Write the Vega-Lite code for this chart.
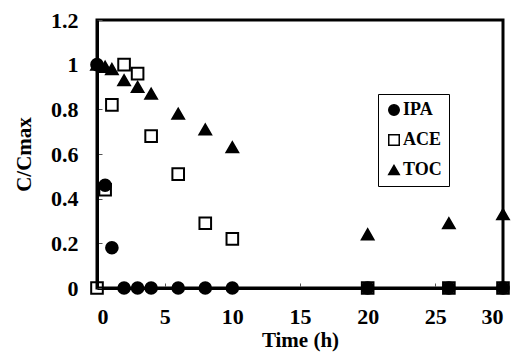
{
  "$schema": "https://vega.github.io/schema/vega-lite/v6.json",
  "width": 406,
  "height": 268,
  "autosize": {"type": "none"},
  "padding": {"left": 97, "top": 20, "right": 15, "bottom": 70},
  "background": "white",
  "config": {
    "view": {"stroke": "#000", "strokeWidth": 3},
    "font": "Liberation Serif",
    "axis": {
      "grid": false,
      "domainColor": "#000",
      "domainWidth": 3,
      "tickColor": "#555",
      "tickSize": -5,
      "labelFont": "Liberation Serif",
      "labelFontWeight": "bold",
      "labelFontSize": 22,
      "labelColor": "#000",
      "titleFont": "Liberation Serif",
      "titleFontWeight": "bold",
      "titleFontSize": 21,
      "titleColor": "#000"
    }
  },
  "data": {
    "values": [
      {"series": "ACE", "t": 0, "c": 0},
      {"series": "ACE", "t": 0.6, "c": 0.44},
      {"series": "ACE", "t": 1.1, "c": 0.82},
      {"series": "ACE", "t": 2, "c": 1.0},
      {"series": "ACE", "t": 3, "c": 0.96},
      {"series": "ACE", "t": 4, "c": 0.68},
      {"series": "ACE", "t": 6, "c": 0.51},
      {"series": "ACE", "t": 8, "c": 0.29},
      {"series": "ACE", "t": 10, "c": 0.22},
      {"series": "ACE", "t": 20, "c": 0},
      {"series": "ACE", "t": 26, "c": 0},
      {"series": "ACE", "t": 30, "c": 0},
      {"series": "IPA", "t": 0, "c": 1.0},
      {"series": "IPA", "t": 0.6, "c": 0.46},
      {"series": "IPA", "t": 1.1, "c": 0.18},
      {"series": "IPA", "t": 2, "c": 0},
      {"series": "IPA", "t": 3, "c": 0},
      {"series": "IPA", "t": 4, "c": 0},
      {"series": "IPA", "t": 6, "c": 0},
      {"series": "IPA", "t": 8, "c": 0},
      {"series": "IPA", "t": 10, "c": 0},
      {"series": "IPA", "t": 20, "c": 0},
      {"series": "IPA", "t": 26, "c": 0},
      {"series": "IPA", "t": 30, "c": 0},
      {"series": "TOC", "t": 0, "c": 1.0},
      {"series": "TOC", "t": 0.6, "c": 0.99},
      {"series": "TOC", "t": 1.1, "c": 0.98},
      {"series": "TOC", "t": 2, "c": 0.93},
      {"series": "TOC", "t": 3, "c": 0.9},
      {"series": "TOC", "t": 4, "c": 0.87},
      {"series": "TOC", "t": 6, "c": 0.78},
      {"series": "TOC", "t": 8, "c": 0.71},
      {"series": "TOC", "t": 10, "c": 0.63},
      {"series": "TOC", "t": 20, "c": 0.24},
      {"series": "TOC", "t": 26, "c": 0.29},
      {"series": "TOC", "t": 30, "c": 0.33}
    ]
  },
  "mark": {"type": "point", "filled": false, "stroke": "#000", "strokeWidth": 2, "size": 135, "opacity": 1, "clip": false},
  "encoding": {
    "x": {
      "field": "t", "type": "quantitative",
      "scale": {"domain": [0, 30], "nice": false},
      "axis": {"values": [0, 5, 10, 15, 20, 25, 30], "title": "Time (h)", "labelPadding": 23, "titlePadding": 2}
    },
    "y": {
      "field": "c", "type": "quantitative",
      "scale": {"domain": [0, 1.2], "nice": false},
      "axis": {"values": [0, 0.2, 0.4, 0.6, 0.8, 1, 1.2], "format": "~g", "title": "C/Cmax", "labelPadding": 24, "titlePadding": 16}
    },
    "shape": {
      "field": "series", "type": "nominal",
      "scale": {"domain": ["IPA", "ACE", "TOC"], "range": ["circle", "square", "triangle-up"]},
      "legend": {
        "title": null,
        "orient": "none",
        "legendX": 281,
        "legendY": 74,
        "strokeColor": "#000",
        "padding": 7,
        "rowPadding": 12,
        "labelFont": "Liberation Serif",
        "labelFontWeight": "bold",
        "labelFontSize": 18,
        "labelColor": "#000",
        "symbolSize": 110,
        "labelOffset": 0,
        "fillColor": "white",
        "encode": {
          "symbols": {"update": {"stroke": {"value": "#000"}, "strokeWidth": {"value": 2}}}
        }
      }
    },
    "fill": {
      "field": "series", "type": "nominal",
      "scale": {"domain": ["IPA", "ACE", "TOC"], "range": ["#000", "transparent", "#000"]},
      "legend": null
    }
  }
}
